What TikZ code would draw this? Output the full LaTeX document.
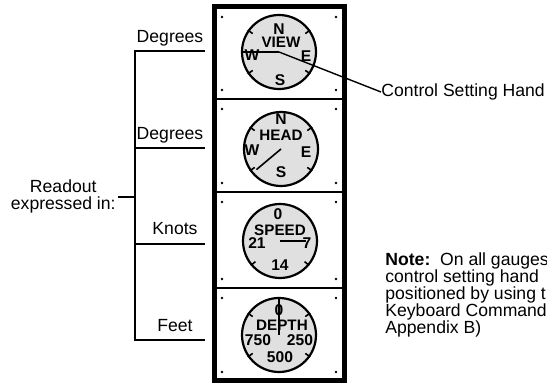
\documentclass[tikz,border=0pt]{standalone}
\usepackage{fontspec}
\setmainfont{Liberation Sans}
\usetikzlibrary{positioning}

\tikzset{
  gauge/.style={circle, draw, line width=1.1pt, fill=black!12, minimum size=37pt, inner sep=0pt},
  dialname/.style={font=\fontsize{7.6}{7}\selectfont\bfseries, inner sep=0.5pt},
  dialmark/.style={font=\fontsize{7.8}{7}\selectfont\bfseries, inner sep=0.5pt},
  unit/.style={font=\fontsize{8.8}{10}\selectfont, anchor=base, inner sep=0pt},
  plain/.style={font=\fontsize{8.8}{8.5}\selectfont, inner sep=0pt},
}

\begin{document}
\begin{tikzpicture}[x=0.5pt, y=-0.5pt]
  \useasboundingbox (0,0) rectangle (547,384);
  % frame with four panels
  \draw[line width=2.5pt] (214,7) rectangle (344,381);
  \foreach \y in {99,192,288} \draw[line width=1.2pt] (214,\y) -- (344,\y);
  \foreach \t/\b in {7/99,99/192,192/288,288/381}
    \foreach \x in {222,336} {
      \fill (\x,\t+10) circle (0.7pt);
      \fill (\x,\b-9) circle (0.7pt);
    }
  % gauges
  \node[gauge] (view) at (279,52) {};
  \node[gauge] (head) at (281,149) {};
  \node[gauge] (speed) at (280,241) {};
  \node[gauge] (depth) at (279,335) {};
  \foreach \g in {view,head,depth}
    \foreach \a in {35,145,215,325} \draw[line width=0.8pt] (\g.\a) -- ++(\a+180:3pt);
  \foreach \a in {220,320} \draw[line width=0.8pt] (speed.\a) -- ++(\a+180:3pt);
  % view
  \node[dialmark] at (279,29) {N};
  \node[dialname] at (281,42) {VIEW};
  \node[dialmark] at (306,56) {E};
  \node[dialmark] at (280,80) {S};
  \node[dialmark] at (252,55) {W};
  % head
  \node[dialmark] at (281,119) {N};
  \node[dialname] at (281,135) {HEAD};
  \node[dialmark] at (252,150) {W};
  \node[dialmark] at (306,152) {E};
  \node[dialmark] at (281,172) {S};
  % speed
  \node[dialmark] at (278,214) {0};
  \node[dialname] at (280,230) {SPEED};
  \node[dialmark] at (257,243) {21};
  \node[dialmark] at (307,243) {7};
  \node[dialmark] at (280,265) {14};
  % depth
  \node[dialmark] at (279,310) {0};
  \node[dialname] at (282,325) {DEPTH};
  \node[dialmark] at (258,340) {750};
  \node[dialmark] at (300,340) {250};
  \node[dialmark] at (280,357) {500};
  % hands
  \draw[line width=0.8pt] (view.center) -- (view.west);
  \draw[line width=0.8pt] (head.center) -- ++(220:16pt);
  \draw[line width=0.8pt] (speed.center) -- ++(0:13pt);
  \draw[line width=0.8pt] (depth.center) -- (depth.north);
  \node[plain, anchor=west] (hand) at (381,92) {Control Setting Hand};
  \draw[line width=0.7pt] (view.center) -- (hand.west);
  % bracket
  \draw[line width=0.9pt] (205,51) -- (135,51) -- (135,340) -- (205,340);
  \draw[line width=0.9pt] (135,148) -- (205,148) (135,244) -- (205,244) (118,197) -- (135,197);
  \node[unit] (deg1) at (170,43) {Degrees};
  \node[unit] (deg2) at (170,140) {Degrees};
  \node[unit] (knots) at (175,235) {Knots};
  \node[unit] (feet) at (175,332) {Feet};
  \node[plain, align=center, anchor=east] (readout) at (116,196) {Readout\\expressed in:};
  \node[plain, align=left, anchor=north west] (note) at (385,252)
    {\textbf{Note:}\ \ On all gauges\\control setting hand\\positioned by using t\\Keyboard Command\\Appendix B)};
\end{tikzpicture}
\end{document}
